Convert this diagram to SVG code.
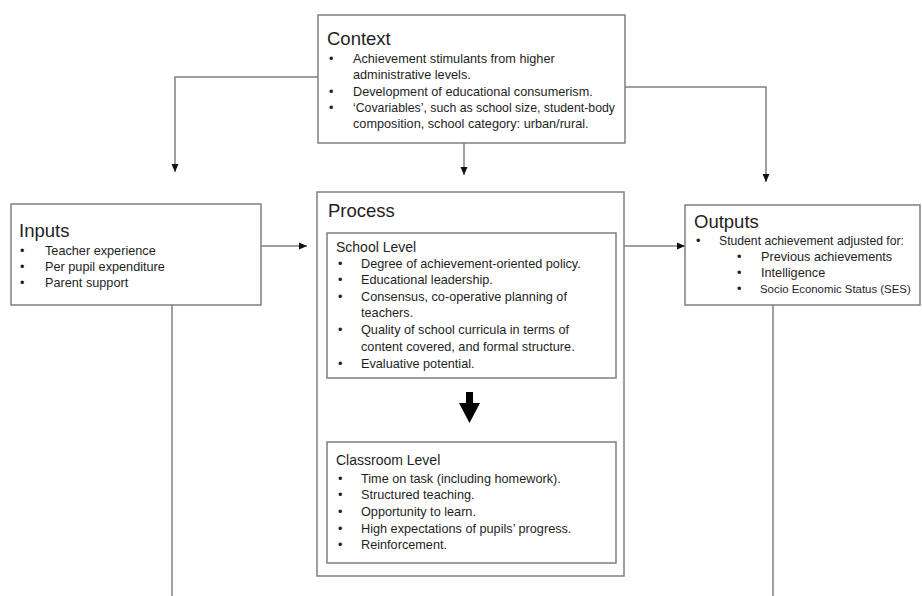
<svg xmlns="http://www.w3.org/2000/svg" width="922" height="596" viewBox="0 0 922 596">
<style>
.box{fill:#fff;stroke:#7f7f7f;stroke-width:1.5}
.conn{fill:none;stroke:#808080;stroke-width:1.5}
text{font-family:"Liberation Sans",Arial,sans-serif;fill:#1e1e1e}
.title{font-size:18.5px}
.sub{font-size:14px}
.body{font-size:12.7px}
.narrow{font-size:11.4px}
</style>
<defs>
<marker id="ah" markerUnits="userSpaceOnUse" markerWidth="10" markerHeight="10" viewBox="0 0 10 10" refX="10" refY="5" orient="auto">
<path d="M2,1.5 L10,5 L2,8.5 Z" fill="#111"/>
</marker>
</defs>
<rect width="922" height="596" fill="#fff"/>
<g id="connectors">
<path class="conn" d="M318 77 H175 V172" marker-end="url(#ah)"/>
<path class="conn" d="M625 87 H766 V182" marker-end="url(#ah)"/>
<path class="conn" d="M464 143 V175" marker-end="url(#ah)"/>
<path class="conn" d="M261 246 H307" marker-end="url(#ah)"/>
<path class="conn" d="M624 246 H685" marker-end="url(#ah)"/>
<path class="conn" d="M172 305 V596"/>
<path class="conn" d="M773 305 V596"/>
</g>
<g id="context">
<rect class="box" x="318" y="15" width="307" height="128"/>
<text class="title" x="327" y="45">Context</text>
<text class="body" x="329" y="63">•</text>
<text class="body" x="353" y="63">Achievement stimulants from higher</text>
<text class="body" x="353" y="79">administrative levels.</text>
<text class="body" x="329" y="96">•</text>
<text class="body" x="353" y="96">Development of educational consumerism.</text>
<text class="body" x="329" y="112">•</text>
<text class="body" x="353" y="112" textLength="262" lengthAdjust="spacingAndGlyphs">‘Covariables’, such as school size, student-body</text>
<text class="body" x="353" y="128">composition, school category: urban/rural.</text>
</g>
<g id="inputs">
<rect class="box" x="11" y="204" width="250" height="101"/>
<text class="title" x="19" y="237">Inputs</text>
<text class="body" x="20" y="255">•</text>
<text class="body" x="45" y="255">Teacher experience</text>
<text class="body" x="20" y="271">•</text>
<text class="body" x="45" y="271">Per pupil expenditure</text>
<text class="body" x="20" y="287">•</text>
<text class="body" x="45" y="287">Parent support</text>
</g>
<g id="process">
<rect class="box" x="317" y="192" width="307" height="384"/>
<text class="title" x="328" y="217">Process</text>
</g>
<g id="school-level">
<rect class="box" x="327" y="233" width="289" height="145"/>
<text class="sub" x="336" y="252">School Level</text>
<text class="body" x="338" y="268">•</text>
<text class="body" x="361" y="268">Degree of achievement-oriented policy.</text>
<text class="body" x="338" y="284">•</text>
<text class="body" x="361" y="284">Educational leadership.</text>
<text class="body" x="338" y="301">•</text>
<text class="body" x="361" y="301">Consensus, co-operative planning of</text>
<text class="body" x="361" y="317">teachers.</text>
<text class="body" x="338" y="334">•</text>
<text class="body" x="361" y="334">Quality of school curricula in terms of</text>
<text class="body" x="361" y="351">content covered, and formal structure.</text>
<text class="body" x="338" y="368">•</text>
<text class="body" x="361" y="368">Evaluative potential.</text>
</g>
<g id="level-arrow">
<polygon points="466,392 473,392 473,403 480,403 469.5,423 459,403 466,403" fill="#000"/>
</g>
<g id="classroom-level">
<rect class="box" x="327" y="442" width="289" height="121"/>
<text class="sub" x="336" y="465">Classroom Level</text>
<text class="body" x="338" y="483">•</text>
<text class="body" x="361" y="483">Time on task (including homework).</text>
<text class="body" x="338" y="499">•</text>
<text class="body" x="361" y="499">Structured teaching.</text>
<text class="body" x="338" y="516">•</text>
<text class="body" x="361" y="516">Opportunity to learn.</text>
<text class="body" x="338" y="533">•</text>
<text class="body" x="361" y="533">High expectations of pupils’ progress.</text>
<text class="body" x="338" y="549">•</text>
<text class="body" x="361" y="549">Reinforcement.</text>
</g>
<g id="outputs">
<rect class="box" x="685" y="205" width="235" height="100"/>
<text class="title" x="694" y="228">Outputs</text>
<text class="body" x="696" y="245">•</text>
<text class="body narrow" x="719" y="245" style="font-size:12.2px">Student achievement adjusted for:</text>
<text class="body" x="737" y="261">•</text>
<text class="body" x="761" y="261">Previous achievements</text>
<text class="body" x="737" y="277">•</text>
<text class="body" x="761" y="277">Intelligence</text>
<text class="body" x="737" y="293">•</text>
<text class="body narrow" x="760" y="293">Socio Economic Status (SES)</text>
</g>
</svg>
